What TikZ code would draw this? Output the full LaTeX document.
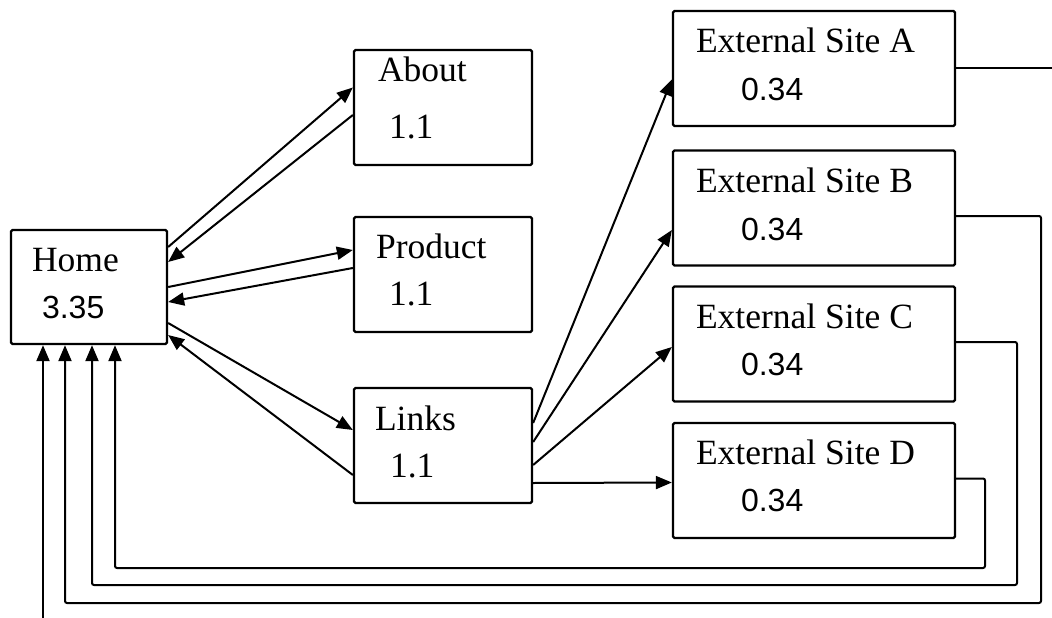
\documentclass[tikz,border=0pt]{standalone}
\usepackage{fontspec}
\setmainfont{Liberation Serif}
\newfontfamily\numfont{Liberation Sans}
\usepackage{tikz}
\usetikzlibrary{arrows.meta,positioning}
\tikzset{
  box/.style={rectangle, draw=black, line width=2.3pt, rounded corners=1.5pt, inner sep=0pt, minimum width=178pt, minimum height=115pt},
  ext/.style={box, minimum width=282pt},
  lbl/.style={anchor=base west, inner sep=0pt, font=\fontsize{35.5}{40}\selectfont},
  num/.style={anchor=base west, inner sep=0pt, font=\numfont\fontsize{32}{38}\selectfont},
  connect/.style={-{Triangle[length=16pt,width=13pt]}, line width=2pt},
  back/.style={connect, rounded corners=2pt},
  wire/.style={line width=2pt}
}

\begin{document}
\begin{tikzpicture}[x=1pt,y=-1pt]
  \path[use as bounding box, fill=white] (0,0) rectangle (1052,618);

  \node[box, minimum width=156pt, minimum height=114pt] (Home) at (89,287) {};
  \node[box] (About) at (443,107.5) {};
  \node[box] (Product) at (443,274.5) {};
  \node[box] (Links) at (443,445.5) {};
  \node[ext] (SiteA) at (814,68.5) {};
  \node[ext] (SiteB) at (814,208) {};
  \node[ext] (SiteC) at (814,344) {};
  \node[ext] (SiteD) at (814,480.5) {};

  \node[lbl] (HomeT) at ([shift={(22,43)}]Home.north west) {Home};
  \node[num] (HomeV) at ([shift={(32,90)}]Home.north west) {3.35};
  \node[lbl] (AboutT) at ([shift={(25,33)}]About.north west) {About};
  \node[lbl] (AboutV) at ([shift={(36,90)}]About.north west) {1.1};
  \node[lbl] (ProductT) at ([shift={(23,43)}]Product.north west) {Product};
  \node[lbl] (ProductV) at ([shift={(36,90)}]Product.north west) {1.1};
  \node[lbl] (LinksT) at ([shift={(22,44)}]Links.north west) {Links};
  \node[lbl] (LinksV) at ([shift={(37,91)}]Links.north west) {1.1};
  \node[lbl] (SiteAT) at ([shift={(24,43)}]SiteA.north west) {External Site A};
  \node[num] (SiteAV) at ([shift={(69,91)}]SiteA.north west) {0.34};
  \node[lbl] (SiteBT) at ([shift={(24,43)}]SiteB.north west) {External Site B};
  \node[num] (SiteBV) at ([shift={(69,91)}]SiteB.north west) {0.34};
  \node[lbl] (SiteCT) at ([shift={(24,43)}]SiteC.north west) {External Site C};
  \node[num] (SiteCV) at ([shift={(69,90)}]SiteC.north west) {0.34};
  \node[lbl] (SiteDT) at ([shift={(24,43)}]SiteD.north west) {External Site D};
  \node[num] (SiteDV) at ([shift={(69,90)}]SiteD.north west) {0.34};

  \draw[connect] ([yshift=40pt]Home.east) -- ([yshift=20pt]About.west);
  \draw[connect] ([yshift=-7.5pt]About.west) -- ([yshift=25pt]Home.east);
  \draw[connect] (Home.east) -- ([yshift=24.5pt]Product.west);
  \draw[connect] ([yshift=6.5pt]Product.west) -- ([yshift=-15pt]Home.east);
  \draw[connect] ([yshift=-36pt]Home.east) -- ([yshift=15.5pt]Links.west);
  \draw[connect] ([yshift=-29.5pt]Links.west) -- ([yshift=-48pt]Home.east);

  \draw[connect] ([yshift=22.5pt]Links.east) -- ([yshift=-11pt]SiteA.west);
  \draw[connect] ([yshift=3.5pt]Links.east) -- ([yshift=-22pt]SiteB.west);
  \draw[connect] ([yshift=-19.5pt]Links.east) -- ([yshift=-3pt]SiteC.west);
  \draw[connect] ([yshift=-37.5pt]Links.east) -- ([yshift=-2pt]SiteD.west);

  \coordinate (Aend) at (1052,68.5);
  \coordinate (Astart) at (43,618);
  \coordinate (Bturn) at (1041,603);
  \coordinate (Cturn) at (1017,585);
  \coordinate (Dturn) at (985,568);
  \draw[wire] (SiteA.east) -- (Aend);
  \draw[connect] (Astart) -- ([xshift=-46pt]Home.south);
  \draw[back] ([yshift=-8pt]SiteB.east) -| (Bturn) -| ([xshift=-24pt]Home.south);
  \draw[back] ([yshift=2pt]SiteC.east) -| (Cturn) -| ([xshift=3pt]Home.south);
  \draw[back] ([yshift=2pt]SiteD.east) -| (Dturn) -| ([xshift=26pt]Home.south);

\end{tikzpicture}
\end{document}
